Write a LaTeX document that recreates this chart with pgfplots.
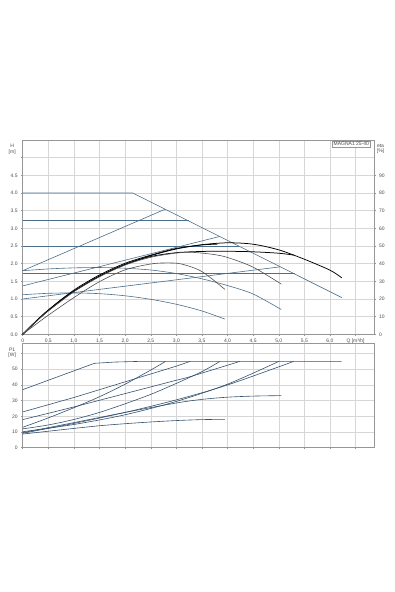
\documentclass[border=0pt]{standalone}
\usepackage{fontspec}
\setmainfont{Liberation Sans}
\usepackage{pgfplots}
\pgfplotsset{compat=1.18}
\definecolor{qh}{RGB}{76,110,138}
\definecolor{pw}{RGB}{52,82,112}
\definecolor{gridc}{RGB}{214,214,214}
\definecolor{framec}{RGB}{150,150,150}
\definecolor{txt}{RGB}{75,75,75}
\definecolor{etag}{RGB}{80,80,80}
\newcommand\lbl{\fontsize{5}{5.2}\selectfont}
\pgfplotsset{
  common/.style={
    scale only axis, width=351.3pt, xmin=0, xmax=6.86,
    xtick={0,0.5,1,1.5,2,2.5,3,3.5,4,4.5,5,5.5,6,6.5},
    grid=major, major grid style={gridc, line width=0.4pt},
    axis line style={framec, line width=0.4pt},
    tick style={framec, line width=0.4pt}, tick align=outside, major tick length=1.5pt,
    ticklabel style={font=\lbl, text=txt},
    /pgf/number format/assume math mode=true,
    xtick pos=bottom, ytick pos=left,
    clip=false,
  },
  qhl/.style={qh, line width=0.6pt},
  pwl/.style={pw, line width=0.6pt},
  etal/.style={black, line width=0.75pt, smooth},
  etam/.style={etag, line width=0.6pt, smooth},
}
\begin{document}
\begin{tikzpicture}
\useasboundingbox (0,0) rectangle (395pt,592pt);
% ---------------- Q-H ----------------
\begin{axis}[common, at={(22.7pt,257.7pt)}, anchor=south west, height=194.3pt,
  ymin=0, ymax=5.5,
  ytick={0,0.5,1,1.5,2,2.5,3,3.5,4,4.5,5},
  yticklabels={0.0,0.5,1.0,1.5,2.0,2.5,3.0,3.5,4.0,4.5,{}},
  xticklabels={0,{0,5},{1,0},{1,5},{2,0},{2,5},{3,0},{3,5},{4,0},{4,5},{5,0},{5,5},{6,0},{Q [m³/h]}},
  xticklabel style={yshift=0.5pt}]
\addplot[qhl] coordinates {(0,4.0) (2.15,4.0) (6.23,1.04)};
\addplot[qhl] coordinates {(0,3.22) (3.24,3.22)};
\addplot[qhl] coordinates {(0,2.5) (4.22,2.5)};
\addplot[qhl] coordinates {(0,1.72) (5.31,1.72)};
\addplot[qhl] coordinates {(0,1.8) (2.78,3.54)};
\addplot[qhl] coordinates {(0,1.37) (3.85,2.77)};
\addplot[qhl] coordinates {(0,1.0) (5.03,1.91)};
\addplot[qhl, smooth] coordinates {(0,1.8) (0.5,1.85) (1.0,1.88) (1.5,1.89) (2.0,1.87) (2.5,1.82) (3.0,1.72) (3.5,1.57) (4.0,1.38) (4.5,1.14) (5.05,0.70)};
\addplot[qhl, smooth] coordinates {(0,1.12) (0.5,1.16) (1.0,1.17) (1.5,1.15) (2.0,1.09) (2.5,0.99) (3.0,0.85) (3.5,0.66) (3.95,0.43)};
\node[anchor=north, align=center, font=\lbl, text=txt, xshift=-10.5pt, yshift=-1pt] at (rel axis cs:0,1) {H\\[0pt][m]};
\node[draw=framec, line width=0.4pt, fill=white, anchor=north east, inner xsep=1.5pt, inner ysep=0.8pt, font=\lbl, text=txt, xshift=-3.3pt, yshift=-1.4pt] at (rel axis cs:1,1) {MAGNA1 25-40};
\end{axis}
% ---------------- eta ----------------
\begin{axis}[common, at={(22.7pt,257.7pt)}, anchor=south west, height=194.3pt,
  ymin=0, ymax=110, grid=none,
  axis x line=none, axis y line*=right, ytick pos=right, yticklabel pos=right,
  ytick={0,10,20,30,40,50,60,70,80,90}]
\addplot[etal] coordinates {(0,0) (0.25,7) (0.5,13.5) (0.75,19.5) (1.0,24.5) (1.5,33) (2.0,39.5) (2.5,44.5) (3.0,48.3) (3.5,50.7) (4.0,51.8) (4.5,51) (5.0,47.8) (5.5,42.5) (6.0,36.3) (6.23,32)};
\addplot[etal] coordinates {(0,0) (0.25,7.2) (0.5,13.8) (1.0,25) (1.5,33.6) (2.0,40.2) (2.5,44.8) (3.0,48.6) (3.5,50.6) (3.8,51)};
\addplot[etal] coordinates {(0,0) (0.25,7) (0.5,13.4) (1.0,24.3) (1.5,32.8) (2.0,39.6) (2.5,44) (3.0,46.2) (3.5,46.9) (4.0,47) (4.5,46.7) (5.0,45.9) (5.3,44.8)};
\addplot[etam] coordinates {(0,0) (0.25,6.9) (0.5,13.2) (1.0,24.1) (1.5,32.6) (2.0,39.2) (2.5,43.6) (3.0,46) (3.3,46.4) (3.7,45.3) (4.0,43.5) (4.5,38) (5.05,28.4)};
\addplot[etam] coordinates {(0,0) (0.25,5.5) (0.5,10.8) (1.0,20.8) (1.5,29.8) (2.0,36.5) (2.5,39.8) (2.8,40.4) (3.1,39.8) (3.5,35.5) (3.95,25.4)};
\node[anchor=north, align=center, font=\lbl, text=txt, xshift=6.5pt, yshift=-0.5pt] at (rel axis cs:1,1) {eta\\[0pt][\%]};
\end{axis}
% ---------------- P1 ----------------
\begin{axis}[common, at={(22.7pt,144.3pt)}, anchor=south west, height=104pt,
  ymin=0, ymax=66.3,
  ytick={0,10,20,30,40,50,60},
  yticklabels={0,10,20,30,40,50,{}},
  xticklabels={}]
\addplot[pwl] coordinates {(0,37) (1.4,53.8) (1.8,54.6) (2.25,55) (6.23,55)};
\addplot[pwl] coordinates {(0,22.8) (1.0,32) (2.0,42) (3.0,52) (3.27,55)};
\addplot[pwl, smooth] coordinates {(0,17.9) (1.0,26) (2.0,34.5) (3.0,43) (3.27,45.3) (4.24,55)};
\addplot[pwl, smooth] coordinates {(0,13) (0.5,19) (1.0,25.5) (1.5,32.5) (2.0,40.5) (2.5,49.5) (2.79,55)};
\addplot[pwl, smooth] coordinates {(0,12) (0.5,14.5) (1.0,18) (1.5,22.5) (2.0,28) (2.5,34) (3.0,41) (3.5,48.5) (3.85,55)};
\addplot[pwl, smooth] coordinates {(0,10.2) (1.0,14.8) (2.0,21) (3.0,29.5) (4.0,40.5) (5.0,55)};
\addplot[pwl, smooth] coordinates {(0,9.2) (1.0,15.5) (2.0,22.5) (3.0,30.5) (4.0,40) (5.29,55)};
\addplot[pwl, smooth] coordinates {(0,9.6) (1.0,16) (2.0,22.5) (3.0,28.5) (3.5,30.8) (4.0,32.2) (4.5,32.9) (5.05,33.2)};
\addplot[pwl, smooth] coordinates {(0,8.7) (0.5,10.5) (1.0,12.3) (1.5,14) (2.0,15.3) (2.5,16.4) (3.0,17.3) (3.5,17.9) (3.95,18.1)};
\node[anchor=north, align=center, font=\lbl, text=txt, xshift=-10.5pt, yshift=-1pt] at (rel axis cs:0,1) {P1\\[0pt][W]};
\end{axis}
\end{tikzpicture}
\end{document}
